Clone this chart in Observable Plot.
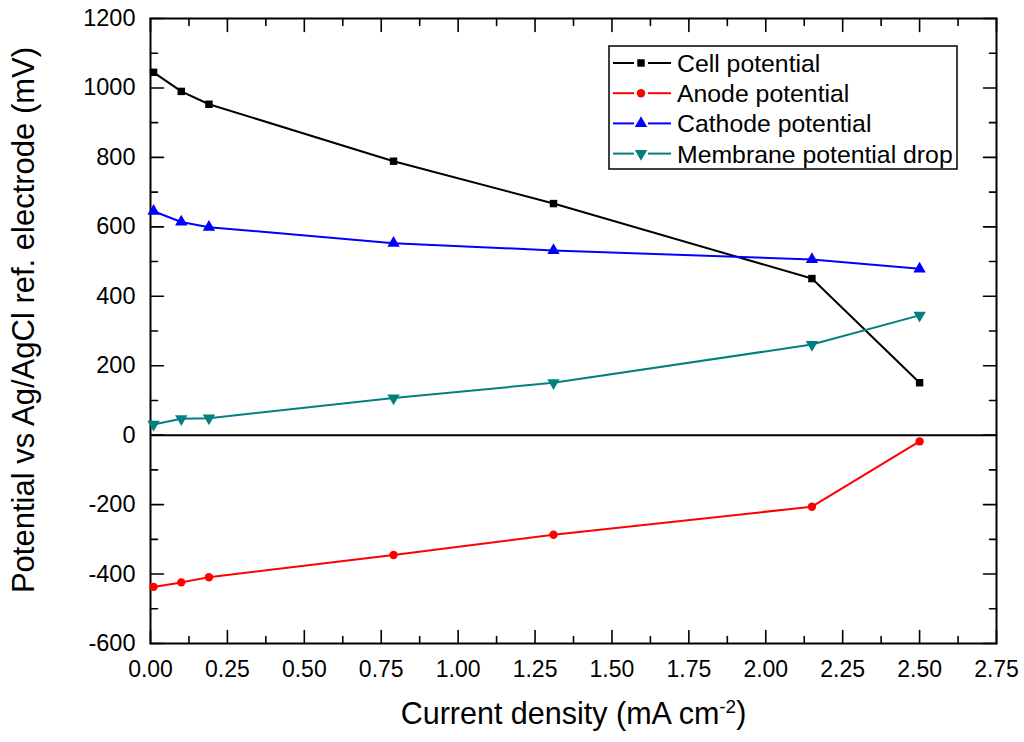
<!DOCTYPE html>
<html>
<head>
<meta charset="utf-8">
<script src="https://cdn.jsdelivr.net/npm/d3@7"></script>
<script src="https://cdn.jsdelivr.net/npm/@observablehq/plot@0.6"></script>
<style>
  html, body { margin: 0; padding: 0; background: white; }
  #wrap { position: relative; width: 1024px; height: 742px; }
  #legend { position: absolute; left: 0; top: 0; }
</style>
</head>
<body>
<div id="wrap"></div>
<script>
// ---- data ----
const currentDensity   = [0.01, 0.10, 0.19, 0.79, 1.31, 2.15, 2.50];
const cellPotential    = [1045, 990, 953, 789, 667, 451, 151];
const anodePotential   = [-437, -424, -409, -345, -287, -206, -18];
const cathodePotential = [645, 614, 599, 553, 532, 506, 479];
const membraneDrop     = [31, 47, 49, 107, 151, 261, 345];

const seriesNames  = ["Cell potential", "Anode potential", "Cathode potential", "Membrane potential drop"];
const seriesValues = [cellPotential, anodePotential, cathodePotential, membraneDrop];
const seriesColors = ["#000000", "#ff0000", "#0000ff", "#008080"];
const seriesSymbols = ["square", "circle", "triangle", "triangle"];
const seriesRotate = [0, 0, 0, 180];

const xTicks = [0, 0.25, 0.5, 0.75, 1.0, 1.25, 1.5, 1.75, 2.0, 2.25, 2.5, 2.75];
const xMinorTicks = [0.125, 0.375, 0.625, 0.875, 1.125, 1.375, 1.625, 1.875, 2.125, 2.375, 2.625];
const yTicks = [-600, -400, -200, 0, 200, 400, 600, 800, 1000, 1200];
const yMinorTicks = [-500, -300, -100, 100, 300, 500, 700, 900, 1100];

const xTitle = "Current density (mA cm-2)";
const yTitle = "Potential vs Ag/AgCl ref. electrode (mV)";

// long table
const rows = [];
seriesNames.forEach((name, i) => {
  currentDensity.forEach((x, j) => rows.push({series: name, x, y: seriesValues[i][j], idx: i}));
});

const font = "'Liberation Sans', Arial, Helvetica, sans-serif";
const tickStroke = 1.6;
const tickShape = {draw(context, l) { context.moveTo(0, 0); context.lineTo(0, -l); }};
const MAJOR = 13, MINOR = 7;

function inwardTicks(values, side, len) {
  const opts = {length: len, anchor: "start", shape: tickShape, stroke: "black", strokeWidth: tickStroke, frameAnchor: side};
  if (side === "left")   return Plot.vector(values, {...opts, y: d => d, rotate: 90});
  if (side === "right")  return Plot.vector(values, {...opts, y: d => d, rotate: -90});
  if (side === "bottom") return Plot.vector(values, {...opts, x: d => d, rotate: 0});
  return Plot.vector(values, {...opts, x: d => d, rotate: 180});
}

const marks = [
  Plot.frame({stroke: "black", strokeWidth: 2}),
  inwardTicks(xTicks, "bottom", MAJOR), inwardTicks(xMinorTicks, "bottom", MINOR),
  inwardTicks(xTicks, "top", MAJOR), inwardTicks(xMinorTicks, "top", MINOR),
  inwardTicks(yTicks, "left", MAJOR), inwardTicks(yMinorTicks, "left", MINOR),
  inwardTicks(yTicks, "right", MAJOR), inwardTicks(yMinorTicks, "right", MINOR),
  Plot.axisX({anchor: "bottom", ticks: xTicks, tickSize: 0, tickPadding: 17, tickFormat: d3.format(".2f"), fontSize: 23, label: null}),
  Plot.axisY({anchor: "left", ticks: yTicks, tickSize: 0, tickPadding: 15, tickFormat: d => String(d), fontSize: 23.5, label: null}),
  Plot.ruleY([0], {stroke: "black", strokeWidth: 2}),
];

seriesNames.forEach((name, i) => {
  const data = rows.filter(d => d.idx === i);
  marks.push(Plot.line(data, {x: "x", y: "y", stroke: seriesColors[i], strokeWidth: 2}));
  marks.push(Plot.dot(data, {x: "x", y: "y", fill: seriesColors[i], stroke: "none",
    symbol: seriesSymbols[i], r: i >= 2 ? 4.6 : 4.2, rotate: seriesRotate[i]}));
});

// axis titles
marks.push(Plot.text([xTitle], {frameAnchor: "bottom", textAnchor: "middle", dy: 80, text: d => d, fontSize: 30.5, fill: "black"}));
marks.push(Plot.text([yTitle], {frameAnchor: "left", textAnchor: "middle", dx: -126, dy: -11, rotate: -90, text: d => d, fontSize: 31, fill: "black"}));

const svg = Plot.plot({
  width: 1024,
  height: 742,
  marginLeft: 150,
  marginRight: 28,
  marginTop: 18,
  marginBottom: 99,
  x: {domain: [0, 2.75]},
  y: {domain: [-600, 1200]},
  style: {fontFamily: font, background: "white", color: "black", overflow: "visible"},
  marks
});

// superscript in x title
d3.select(svg).selectAll("text").filter(function() { return this.textContent === xTitle; })
  .each(function() {
    const t = d3.select(this);
    t.text(null);
    t.append("tspan").text("Current density (mA cm");
    t.append("tspan").attr("dy", "-0.55em").attr("font-size", "0.62em").text("-2");
    t.append("tspan").attr("dy", "0.34em").text(")");
  });

document.getElementById("wrap").appendChild(svg);

// legend (overlay)
const lg = d3.select("#wrap").append("svg").attr("id", "legend")
  .attr("width", 1024).attr("height", 742).style("pointer-events", "none");
const box = {x: 609, y: 46, w: 348, h: 123};
lg.append("rect").attr("x", box.x).attr("y", box.y).attr("width", box.w).attr("height", box.h)
  .attr("fill", "white").attr("stroke", "black").attr("stroke-width", 1.5);
const symbolMap = {square: d3.symbolSquare, circle: d3.symbolCircle, triangle: d3.symbolTriangle};
seriesNames.forEach((name, i) => {
  const cy = box.y + 17 + i * 30.2;
  const g = lg.append("g");
  g.append("line").attr("x1", 613).attr("x2", 634).attr("y1", cy).attr("y2", cy)
    .attr("stroke", seriesColors[i]).attr("stroke-width", 2);
  g.append("line").attr("x1", 648).attr("x2", 671).attr("y1", cy).attr("y2", cy)
    .attr("stroke", seriesColors[i]).attr("stroke-width", 2);
  const r = i >= 2 ? 4.6 : 4.2;
  g.append("path").attr("d", d3.symbol(symbolMap[seriesSymbols[i]], Math.PI * r * r)())
    .attr("transform", `translate(641,${cy}) rotate(${seriesRotate[i]})`)
    .attr("fill", seriesColors[i]);
  g.append("text").attr("x", 677).attr("y", cy).attr("dy", "0.36em")
    .attr("font-family", font).attr("font-size", 24.8).attr("fill", "black").text(name);
});
</script>
</body>
</html>
